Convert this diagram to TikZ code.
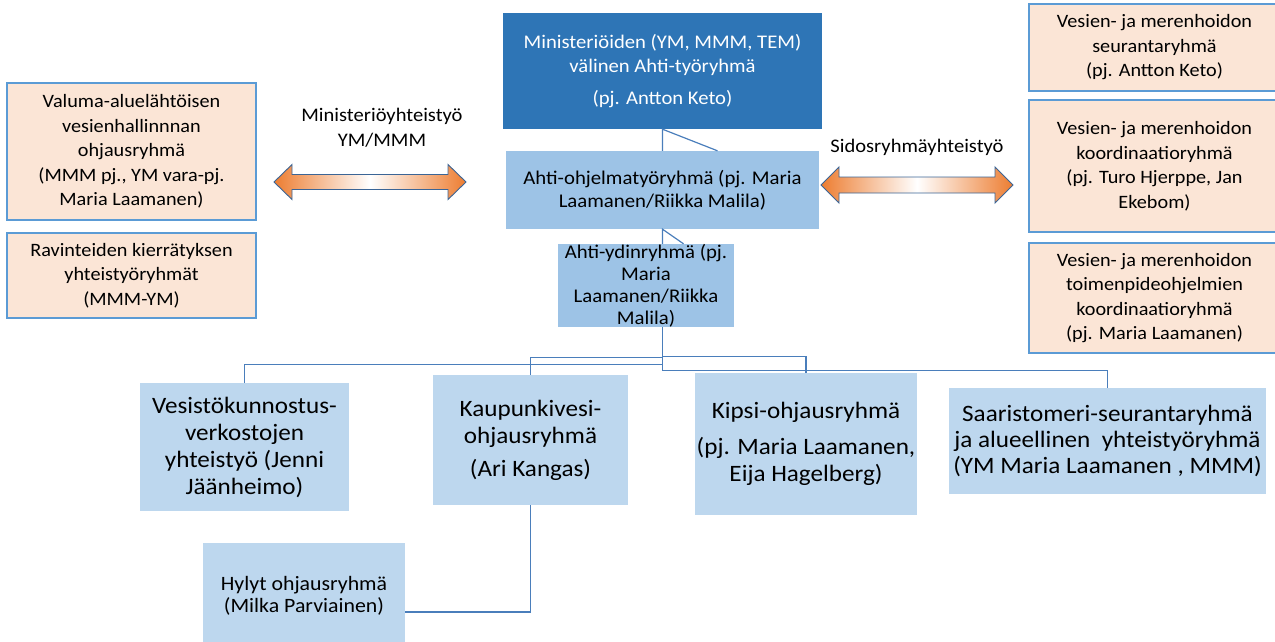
\documentclass[tikz,border=0pt]{standalone}
\usepackage{fontspec}
\setmainfont{Carlito}[FakeStretch=1.07]
\usepackage{tikz}
\usetikzlibrary{positioning}

\definecolor{ahtiTumma}{HTML}{2E75B6}
\definecolor{ahtiKeski}{HTML}{9DC3E6}
\definecolor{ahtiVaalea}{HTML}{BDD7EE}
\definecolor{persikka}{HTML}{FBE5D6}
\definecolor{reunaSini}{HTML}{5B9BD5}
\definecolor{viiva}{HTML}{4A7EBB}
\definecolor{oranssi}{HTML}{ED7D31}

\begin{document}
\begin{tikzpicture}[x=1pt,y=-1pt,
    ryhma/.style={inner sep=0pt, align=center, text=black},
    tumma/.style={ryhma, fill=ahtiTumma, text=white, font=\fontsize{19.3}{24}\selectfont},
    keski/.style={ryhma, fill=ahtiKeski},
    vaalea/.style={ryhma, fill=ahtiVaalea, font=\fontsize{23.5}{27}\selectfont},
    sidos/.style={ryhma, fill=persikka, draw=reunaSini, line width=1.4pt, font=\fontsize{18.9}{24.5}\selectfont},
    yhteys/.style={draw=viiva, line width=1.2pt},
    nuoli/.style={draw=viiva!80!black, line width=0.9pt, left color=oranssi, right color=oranssi, middle color=white}]
  \useasboundingbox (0,0) rectangle (1275,641);

  % ministeriot ja ohjelmatyoryhma
  \draw (662.5,71) node[tumma, minimum width=319pt, minimum height=116pt] (ministeriot)
      {Ministeriöiden (YM, MMM, TEM)\\ välinen Ahti-työryhmä\\[8pt] (pj. Antton Keto)};
  \draw (662.5,190) node[keski, minimum width=313pt, minimum height=78pt, font=\fontsize{19.4}{23}\selectfont] (ohjelma)
      {Ahti-ohjelmatyöryhmä (pj. Maria\\ Laamanen/Riikka Malila)};
  \draw (646,285.5) node[keski, minimum width=176pt, minimum height=83pt, font=\fontsize{19.4}{22}\selectfont] (ydin)
      {Ahti-ydinryhmä (pj.\\ Maria\\ Laamanen/Riikka\\ Malila)};

  % alemmat ryhmat
  \draw (244.5,447) node[vaalea, minimum width=209pt, minimum height=128pt] (vesisto)
      {Vesistökunnostus-\\ verkostojen\\ yhteistyö (Jenni\\ Jäänheimo)};
  \draw (530.5,440) node[vaalea, minimum width=195pt, minimum height=130pt] (kaupunki)
      {Kaupunkivesi-\\ ohjausryhmä\\[6pt] (Ari Kangas)};
  \draw (806,444) node[vaalea, minimum width=222pt, minimum height=142pt] (kipsi)
      {Kipsi-ohjausryhmä\\[9pt] (pj. Maria Laamanen,\\ Eija Hagelberg)};
  \draw (1107.5,441) node[vaalea, minimum width=317pt, minimum height=106pt, font=\fontsize{23.5}{26}\selectfont] (saaristo)
      {Saaristomeri-seurantaryhmä\\ ja alueellinen\ \ yhteistyöryhmä\\ (YM Maria Laamanen , MMM)};
  \draw (304,612) node[vaalea, minimum width=202pt, minimum height=138pt, font=\fontsize{20.4}{22}\selectfont] (hylyt)
      {Hylyt ohjausryhmä\\ (Milka Parviainen)\rule[-36pt]{0pt}{36pt}};

  % vasen puoli
  \draw (131.5,151.5) node[sidos, minimum width=249pt, minimum height=137pt] (valuma)
      {Valuma-aluelähtöisen\\ vesienhallinnnan\\ ohjausryhmä\\ (MMM pj., YM vara-pj.\\ Maria Laamanen)};
  \draw (131.5,275.5) node[sidos, minimum width=249pt, minimum height=85pt] (ravinne)
      {Ravinteiden kierrätyksen\\ yhteistyöryhmät\\ (MMM-YM)};

  % oikea puoli
  \draw (1154.5,47.5) node[sidos, minimum width=251pt, minimum height=87pt] (seuranta)
      {Vesien- ja merenhoidon\\ seurantaryhmä\\ (pj. Antton Keto)};
  \draw (1154.5,166) node[sidos, minimum width=251pt, minimum height=132pt] (koordinaatio)
      {Vesien- ja merenhoidon\\ koordinaatioryhmä\\ (pj. Turo Hjerppe, Jan\\ Ekebom)};
  \draw (1154.5,298) node[sidos, minimum width=251pt, minimum height=110pt] (toimenpide)
      {Vesien- ja merenhoidon\\ toimenpideohjelmien\\ koordinaatioryhmä\\ (pj. Maria Laamanen)};

  % yhteistyonuolet
  \draw (382,127.5) node[ryhma, font=\fontsize{19.2}{25}\selectfont] (ministeriyhteistyo)
      {Ministeriöyhteistyö\\ YM/MMM};
  \draw (917,147) node[ryhma, font=\fontsize{19.2}{25}\selectfont] (sidosyhteistyo)
      {Sidosryhmäyhteistyö};
  \draw[nuoli] (274,182) -- ++(18,-17.5) -- ++(0,10) -- ++(156,0) -- ++(0,-10) -- ++(18,17.5)
      -- ++(-18,17.5) -- ++(0,-10) -- ++(-156,0) -- ++(0,10) -- cycle;
  \draw[nuoli] (821,185) -- ++(18,-18) -- ++(0,10) -- ++(156,0) -- ++(0,-10) -- ++(18,18)
      -- ++(-18,18) -- ++(0,-10) -- ++(-156,0) -- ++(0,10) -- cycle;

  % yhteydet
  \draw[yhteys] (ohjelma.north) -- (ministeriot.south) -- ([xshift=55pt]ohjelma.north);
  \draw[yhteys] (ohjelma.south |- ydin.north) -- (ohjelma.south) -- ([xshift=21pt]ohjelma.south |- ydin.north);
  \draw[yhteys] (ohjelma.south |- ydin.south) -- ++(0,30) -| (kaupunki.north);
  \draw[yhteys] (ohjelma.south |- ydin.south) -- ++(0,37) -| (vesisto.north);
  \draw[yhteys] (ohjelma.south |- ydin.south) -- ++(0,29) -| (kipsi.north);
  \draw[yhteys] (ohjelma.south |- ydin.south) -- ++(0,43) -| (saaristo.north);
  \draw[yhteys] (kaupunki.south) |- (hylyt.east);

\end{tikzpicture}
\end{document}
